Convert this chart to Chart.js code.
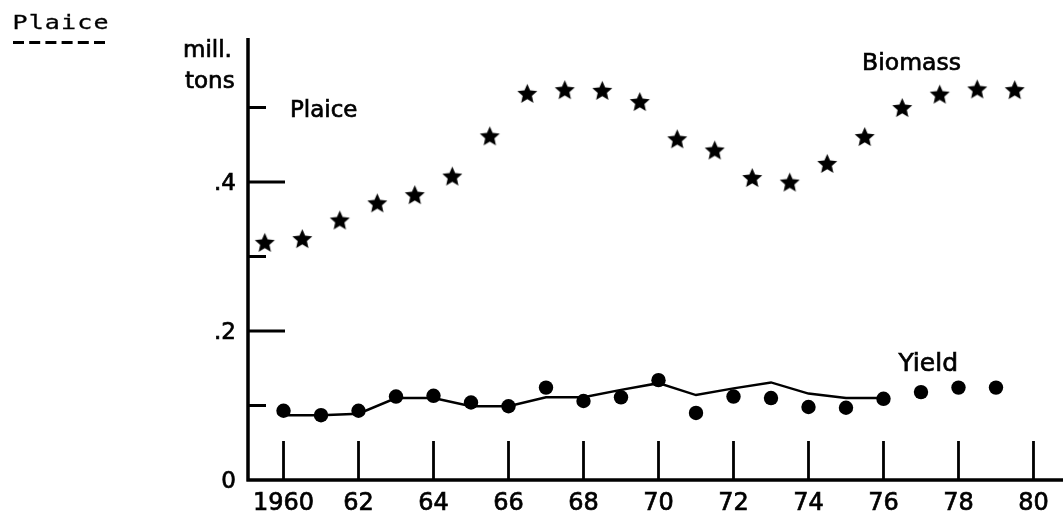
<!DOCTYPE html>
<html>
<head>
<meta charset="utf-8">
<script src="https://cdn.jsdelivr.net/npm/chart.js@4/dist/chart.umd.min.js"></script>
<style>
  html, body { margin: 0; padding: 0; background: #fff; }
  canvas { display: block; }
</style>
</head>
<body>
<canvas id="plaiceChart" width="1063" height="514"></canvas>
<script>
// biomass (stars), plotted between the year ticks
const biomassYears = [1959.5, 1960.5, 1961.5, 1962.5, 1963.5, 1964.5, 1965.5, 1966.5, 1967.5, 1968.5, 1969.5,
  1970.5, 1971.5, 1972.5, 1973.5, 1974.5, 1975.5, 1976.5, 1977.5, 1978.5, 1979.5]
const biomassValues = [0.319, 0.324, 0.349, 0.372, 0.383, 0.408, 0.462, 0.519, 0.524, 0.523, 0.508,
  0.458, 0.443, 0.406, 0.400, 0.425, 0.461, 0.500, 0.518, 0.525, 0.524]

// yield (dots)
const yieldYears = [1960, 1961, 1962, 1963, 1964, 1965, 1966, 1967, 1968, 1969,
  1970, 1971, 1972, 1973, 1974, 1975, 1976, 1977, 1978, 1979]
const yieldValues = [0.093, 0.087, 0.093, 0.112, 0.113, 0.104, 0.099, 0.124, 0.106, 0.111,
  0.134, 0.090, 0.112, 0.110, 0.098, 0.097, 0.109, 0.118, 0.124, 0.124]

// solid line under the yield dots
const lineYears = [1960, 1961, 1962, 1963, 1964, 1965, 1966, 1967, 1968, 1969,
  1970, 1971, 1972, 1973, 1974, 1975, 1976]
const lineValues = [0.087, 0.087, 0.089, 0.110, 0.110, 0.099, 0.099, 0.111, 0.111, 0.121,
  0.130, 0.114, 0.123, 0.131, 0.116, 0.110, 0.110]

const xTicks = [1960, 1962, 1964, 1966, 1968, 1970, 1972, 1974, 1976, 1978, 1980]
const xTickLabels = ['1960', '62', '64', '66', '68', '70', '72', '74', '76', '78', '80']
const yLongTicks = [0.2, 0.4]
const yShortTicks = [0.1, 0.3, 0.5]
const yLabelValues = [0, 0.2, 0.4]
const yLabels = ['0', '.2', '.4']

const SANS = '"DejaVu Sans", sans-serif'

const makeStar = (r) => {
  const c = document.createElement('canvas')
  const size = Math.ceil(r * 2 + 2)
  c.width = size
  c.height = size
  const g = c.getContext('2d')
  g.translate(size / 2, size / 2 + 1)
  g.beginPath()
  for (let i = 0; i < 10; i++) {
    const rad = i % 2 === 0 ? r : r * 0.46
    const a = -Math.PI / 2 + i * Math.PI / 5
    g.lineTo(Math.cos(a) * rad, Math.sin(a) * rad)
  }
  g.closePath()
  g.fillStyle = '#000'
  g.fill()
  return c
}

// scanned print looks heavy, so text gets a thin outline as well
const heavyText = (ctx, text, x, y) => {
  ctx.fillText(text, x, y)
  ctx.strokeText(text, x, y)
}

const axesPlugin = {
  id: 'oldAxes',
  afterDatasetsDraw(chart) {
    const { ctx, chartArea, scales: { x, y } } = chart
    const left = chartArea.left
    const bottom = y.getPixelForValue(0)
    ctx.save()
    ctx.strokeStyle = '#000'
    ctx.fillStyle = '#000'
    ctx.lineCap = 'butt'

    // axis lines
    ctx.lineWidth = 3.5
    ctx.beginPath()
    ctx.moveTo(left, chartArea.top)
    ctx.lineTo(left, bottom + 1.5)
    ctx.moveTo(left - 1.5, bottom)
    ctx.lineTo(chartArea.right, bottom)
    ctx.stroke()

    // y ticks, pointing inwards
    ctx.lineWidth = 2.8
    ctx.beginPath()
    yLongTicks.forEach(v => {
      const py = y.getPixelForValue(v)
      ctx.moveTo(left, py)
      ctx.lineTo(left + 37, py)
    })
    yShortTicks.forEach(v => {
      const py = y.getPixelForValue(v)
      ctx.moveTo(left, py)
      ctx.lineTo(left + 18, py)
    })
    // x ticks, pointing up
    xTicks.forEach(v => {
      const px = x.getPixelForValue(v)
      ctx.moveTo(px, bottom)
      ctx.lineTo(px, bottom - 39)
    })
    ctx.stroke()

    ctx.lineWidth = 0.7
    // tick labels
    ctx.font = `23px ${SANS}`
    ctx.textAlign = 'right'
    ctx.textBaseline = 'middle'
    yLabelValues.forEach((v, i) => {
      heavyText(ctx, yLabels[i], left - 12, y.getPixelForValue(v) + 2)
    })
    ctx.font = `24px ${SANS}`
    ctx.textAlign = 'center'
    ctx.textBaseline = 'alphabetic'
    xTicks.forEach((v, i) => {
      heavyText(ctx, xTickLabels[i], x.getPixelForValue(v), bottom + 30)
    })

    // unit label
    ctx.font = `23px ${SANS}`
    ctx.textAlign = 'left'
    heavyText(ctx, 'mill.', left - 65, 57)
    heavyText(ctx, 'tons', left - 63, 88)

    // in-chart labels
    ctx.font = `23px ${SANS}`
    heavyText(ctx, 'Plaice', x.getPixelForValue(1960.17), y.getPixelForValue(0.487))
    ctx.font = `23.5px ${SANS}`
    heavyText(ctx, 'Biomass', x.getPixelForValue(1975.43), y.getPixelForValue(0.550))
    ctx.font = `25px ${SANS}`
    heavyText(ctx, 'Yield', x.getPixelForValue(1976.4), y.getPixelForValue(0.146))

    // typewritten heading with dashed underline
    ctx.font = `20px "DejaVu Sans Mono", monospace`
    ctx.textAlign = 'center'
    ctx.lineWidth = 0.3
    const head = 'Plaice'
    for (let i = 0; i < head.length; i++) {
      ctx.save()
      ctx.translate(20 + i * 16.2, 29)
      ctx.scale(1.25, 1)
      heavyText(ctx, head[i], 0, 0)
      ctx.restore()
    }
    ctx.lineWidth = 3
    ctx.beginPath()
    for (let i = 0; i < 6; i++) {
      ctx.moveTo(13 + i * 16.2, 42.5)
      ctx.lineTo(24 + i * 16.2, 42.5)
    }
    ctx.stroke()
    ctx.restore()
  }
}

const ctx = document.getElementById('plaiceChart').getContext('2d')
new Chart(ctx, {
  type: 'scatter',
  data: {
    datasets: [
      {
        label: 'Biomass',
        data: biomassYears.map((yr, i) => ({ x: yr, y: biomassValues[i] })),
        pointStyle: makeStar(10.5),
        pointRadius: 10,
        showLine: false
      },
      {
        label: 'Yield',
        data: yieldYears.map((yr, i) => ({ x: yr, y: yieldValues[i] })),
        pointStyle: 'circle',
        pointRadius: 7.2,
        backgroundColor: '#000',
        borderWidth: 0,
        showLine: false
      },
      {
        label: 'Catch line',
        data: lineYears.map((yr, i) => ({ x: yr, y: lineValues[i] })),
        showLine: true,
        borderColor: '#000',
        borderWidth: 2.5,
        pointRadius: 0,
        tension: 0
      }
    ]
  },
  options: {
    responsive: false,
    animation: false,
    events: [],
    layout: { autoPadding: false, padding: { left: 248, right: 0, top: 38, bottom: 34 } },
    plugins: {
      legend: { display: false },
      tooltip: { enabled: false }
    },
    scales: {
      x: { type: 'linear', min: 1959.053, max: 1980.787, display: false },
      y: { type: 'linear', min: 0, max: 0.5933, display: false }
    }
  },
  plugins: [axesPlugin]
})
</script>
</body>
</html>
